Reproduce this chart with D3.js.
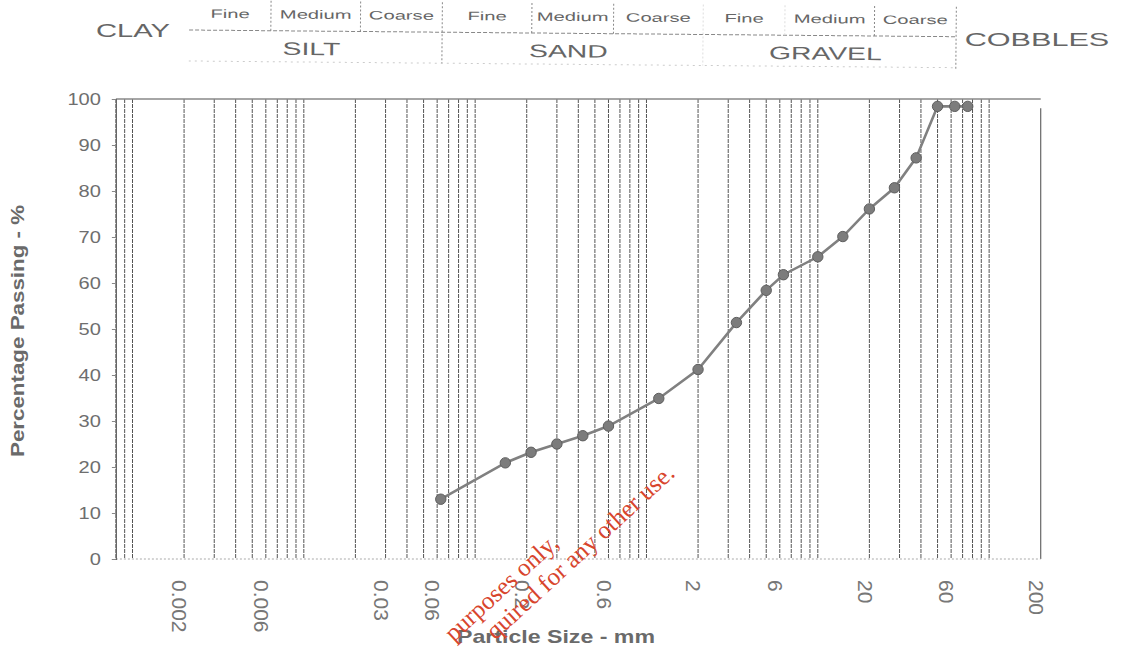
<!DOCTYPE html>
<html>
<head>
<meta charset="utf-8">
<script src="https://cdn.jsdelivr.net/npm/d3@7"></script>
<style>
  body { margin: 0; background: #fff; }
  svg { display: block; font-family: Arial, "Liberation Sans", sans-serif; }
</style>
</head>
<body>
<div id="chart"></div>
<script>
// sieve sizes (mm) and percentage passing
var sizes   = [0.063, 0.15, 0.212, 0.3, 0.425, 0.6, 1.18, 2, 3.35, 5, 6.3, 10, 14, 20, 28, 37.5, 50, 63, 75];
var passing = [13.0, 20.9, 23.2, 25.0, 26.8, 28.9, 34.9, 41.2, 51.4, 58.4, 61.8, 65.7, 70.1, 76.1, 80.7, 87.2, 98.4, 98.4, 98.4];

var xTickLabels = [0.002, 0.006, 0.03, 0.06, 0.2, 0.6, 2, 6, 20, 60, 200];
var yTicks = [0, 10, 20, 30, 40, 50, 60, 70, 80, 90, 100];

// soil classification header
var fractions   = ["SILT", "SAND", "GRAVEL"];
var fractionLow = [0.002, 0.06, 2];
var fractionTop = [0.06, 2, 60];
var subNames    = ["Fine", "Medium", "Coarse"];
var subBounds   = [0.002, 0.006, 0.02, 0.06, 0.2, 0.6, 2, 6, 20, 60];

var W = 1127, H = 651;

var x = d3.scaleLog().domain([0.0008, 200]).range([115.9, 1040.7]);
var y = d3.scaleLinear().domain([0, 100]).range([559, 99]);

var svg = d3.select("#chart").append("svg")
    .attr("width", W)
    .attr("height", H);

// stretch text horizontally like the scanned lettering
function stretch(sel, k) {
  sel.each(function() {
    var len = this.getComputedTextLength();
    d3.select(this).attr("textLength", len * k).attr("lengthAdjust", "spacingAndGlyphs");
  });
}

// vertical log grid
var grid = x.ticks().filter(function(d) { return d <= 100.0001; });
svg.append("g").selectAll("line")
    .data(grid)
  .enter().append("line")
    .attr("x1", function(d) { return x(d); })
    .attr("x2", function(d) { return x(d); })
    .attr("y1", y(100))
    .attr("y2", y(0))
    .attr("stroke", "#555")
    .attr("stroke-width", 1)
    .attr("stroke-dasharray", "4,1");

// frame top / right / bottom
svg.append("line")
    .attr("x1", x(0.0008)).attr("x2", x(200))
    .attr("y1", y(100)).attr("y2", y(100))
    .attr("stroke", "#888").attr("stroke-width", 1.5);
svg.append("line")
    .attr("x1", x(200)).attr("x2", x(200))
    .attr("y1", y(98)).attr("y2", y(0))
    .attr("stroke", "#666").attr("stroke-width", 1.2);
svg.append("line")
    .attr("x1", x(0.0008)).attr("x2", x(200))
    .attr("y1", y(0)).attr("y2", y(0))
    .attr("stroke", "#aaa").attr("stroke-width", 1)
    .attr("stroke-dasharray", "2,2");

// y axis
var yAxis = svg.append("g")
    .attr("transform", "translate(" + x(0.0008) + ",0)")
    .call(d3.axisLeft(y).tickValues(yTicks).tickSize(4).tickPadding(11));
yAxis.select(".domain").attr("stroke", "#666").attr("stroke-width", 1.2);
yAxis.selectAll(".tick line").attr("stroke", "#888");
yAxis.selectAll("text")
    .attr("fill", "#6e6e6e")
    .style("font-size", "17px")
    .style("font-family", "Arial, 'Liberation Sans', sans-serif");
stretch(yAxis.selectAll("text"), 1.18);

// x axis labels (rotated)
var xAxis = svg.append("g")
    .attr("transform", "translate(0," + y(0) + ")")
    .call(d3.axisBottom(x).tickValues(xTickLabels).tickSize(0).tickFormat(function(d) { return String(d); }));
xAxis.select(".domain").remove();
xAxis.selectAll("text")
    .attr("transform", "rotate(90)")
    .attr("x", 21)
    .attr("y", 5)
    .attr("dy", "0.35em")
    .attr("text-anchor", "start")
    .attr("fill", "#777")
    .style("font-size", "21px")
    .style("font-family", "Arial, 'Liberation Sans', sans-serif");

// grading curve
var pts = sizes.map(function(s, i) { return {size: s, pass: passing[i]}; });
var line = d3.line()
    .x(function(d) { return x(d.size); })
    .y(function(d) { return y(d.pass); });
svg.append("path")
    .datum(pts)
    .attr("fill", "none")
    .attr("stroke", "#808080")
    .attr("stroke-width", 2.6)
    .attr("d", line);
svg.selectAll(".pt")
    .data(pts)
  .enter().append("circle")
    .attr("class", "pt")
    .attr("cx", function(d) { return x(d.size); })
    .attr("cy", function(d) { return y(d.pass); })
    .attr("r", 5.2)
    .attr("fill", "#7c7c7c")
    .attr("stroke", "#5e5e5e")
    .attr("stroke-width", 1);

// header table
var hx = function(v) { return x(v) + 5; };
var head = svg.append("g").attr("transform", "rotate(0.5," + hx(0.002) + ",30)");
head.append("line")
    .attr("x1", hx(0.002)).attr("x2", hx(60))
    .attr("y1", 30).attr("y2", 30)
    .attr("stroke", "#888").attr("stroke-dasharray", "4,2");
head.append("line")
    .attr("x1", hx(0.002)).attr("x2", hx(60))
    .attr("y1", 61).attr("y2", 61)
    .attr("stroke", "#ccc").attr("stroke-dasharray", "2,4");
head.selectAll(".sub")
    .data(subBounds.filter(function(d) { return fractionLow.indexOf(d) < 0 && d !== 60; }))
  .enter().append("line")
    .attr("x1", function(d) { return hx(d); })
    .attr("x2", function(d) { return hx(d); })
    .attr("y1", 0).attr("y2", 30)
    .attr("stroke", function(d) { return d === 6 ? "#ddd" : "#888"; })
    .attr("stroke-dasharray", "2,2");
head.selectAll(".main")
    .data([0.06, 2, 60])
  .enter().append("line")
    .attr("x1", function(d) { return hx(d); })
    .attr("x2", function(d) { return hx(d); })
    .attr("y1", 0).attr("y2", function(d) { return d === 60 ? 62 : 61; })
    .attr("stroke", function(d) { return d === 2 ? "#ddd" : "#888"; })
    .attr("stroke-dasharray", "2,2");

var subTexts = head.selectAll(".subtxt")
    .data(d3.range(subBounds.length - 1))
  .enter().append("text")
    .attr("x", function(i) { return (hx(subBounds[i]) + hx(subBounds[i + 1])) / 2; })
    .attr("y", 17.6)
    .attr("text-anchor", "middle")
    .attr("fill", "#666")
    .style("font-size", "12px")
    .text(function(i) { return subNames[i % 3]; });
stretch(subTexts, 1.68);

var fracTexts = head.selectAll(".frac")
    .data(fractions)
  .enter().append("text")
    .attr("x", function(d, i) { return (hx(fractionLow[i]) + hx(fractionTop[i])) / 2 - 4; })
    .attr("y", 54)
    .attr("text-anchor", "middle")
    .attr("fill", "#666")
    .style("font-size", "18px")
    .text(function(d) { return d; });
stretch(fracTexts, 1.57);

var clay = svg.append("text")
    .attr("x", 133).attr("y", 37)
    .attr("text-anchor", "middle")
    .attr("fill", "#666")
    .style("font-size", "18px")
    .text("CLAY");
stretch(clay, 1.62);
var cobbles = svg.append("text")
    .attr("x", 1037).attr("y", 46)
    .attr("text-anchor", "middle")
    .attr("fill", "#666")
    .style("font-size", "18px")
    .text("COBBLES");
stretch(cobbles, 1.7);

// axis titles
svg.append("text")
    .attr("transform", "translate(24,331) rotate(-90)")
    .attr("text-anchor", "middle")
    .attr("fill", "#6a6a6a")
    .style("font-size", "18px")
    .style("font-weight", "bold")
    .attr("textLength", 252)
    .attr("lengthAdjust", "spacingAndGlyphs")
    .text("Percentage Passing  -  %");
svg.append("text")
    .attr("x", 556).attr("y", 643)
    .attr("text-anchor", "middle")
    .attr("fill", "#6a6a6a")
    .style("font-size", "19px")
    .style("font-weight", "bold")
    .attr("textLength", 198)
    .attr("lengthAdjust", "spacingAndGlyphs")
    .text("Particle Size  -  mm");

// watermark
var wm = svg.append("g").style("font-family", "'Liberation Serif', 'DejaVu Serif', serif")
    .style("font-size", "25px").attr("fill", "#d8452d");
wm.append("text")
    .attr("transform", "translate(560,545) rotate(-42.5)")
    .attr("text-anchor", "end")
    .text("purposes only,");
wm.append("text")
    .attr("transform", "translate(676,475) rotate(-42.5)")
    .attr("text-anchor", "end")
    .text("quired for any other use.");
</script>
</body>
</html>
